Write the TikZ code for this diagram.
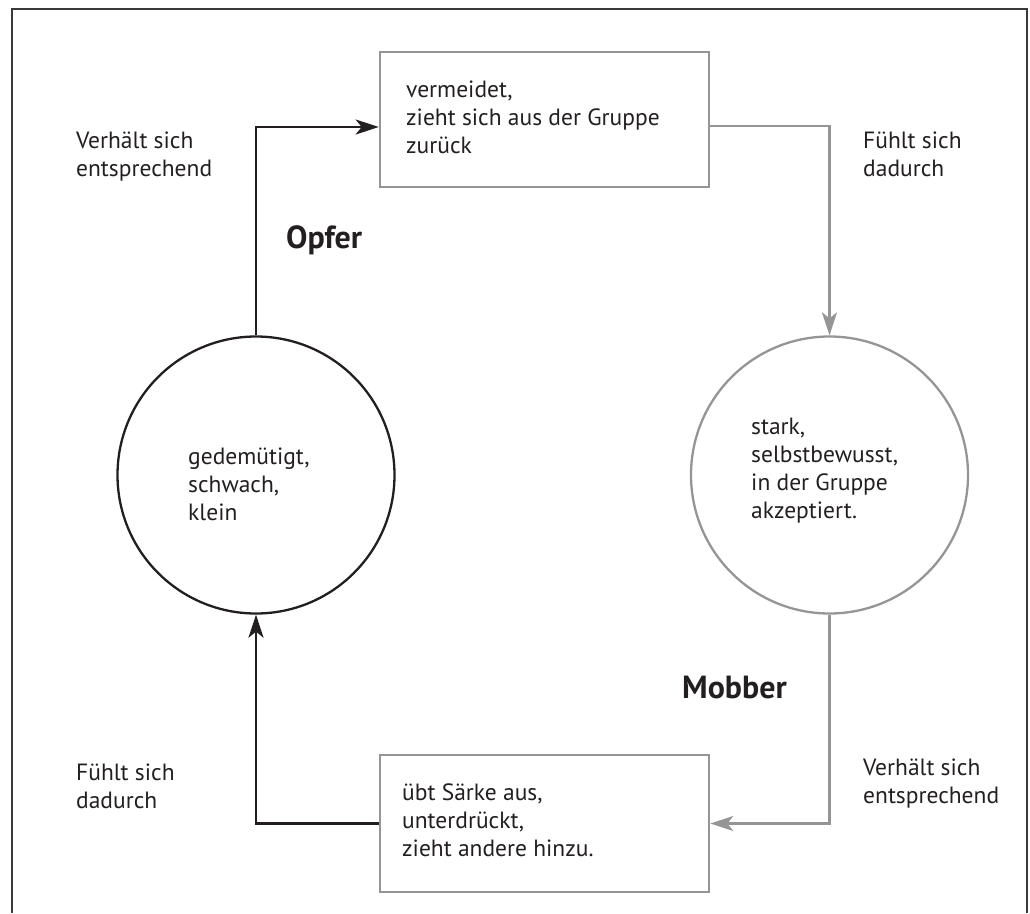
\documentclass[tikz,border=0pt]{standalone}
\usepackage{fontspec}
\setmainfont{PT Sans}
\usetikzlibrary{arrows.meta}
\definecolor{ink}{HTML}{231F20}
\definecolor{lgray}{HTML}{959597}
\definecolor{fgray}{HTML}{3A3A3A}
\tikzset{
  lbl/.style={anchor=base west, inner sep=0pt, align=left, text=ink, font=\fontsize{23.5}{27.7}\selectfont},
  head/.style={anchor=base west, inner sep=0pt, text=ink, font=\fontsize{32}{36}\selectfont\bfseries},
  blackline/.style={draw=ink, line width=2.6pt},
  grayline/.style={draw=lgray, line width=2.6pt},
  tip/.style={-{Stealth[length=23pt,width=15pt,inset=6pt]}},
  boxnode/.style={rectangle, draw=lgray, line width=2.6pt, minimum width=329pt, minimum height=135pt, inner sep=0pt},
  ringnode/.style={circle, line width=2.3pt, minimum size=277pt, inner sep=0pt},
}
\begin{document}
\begin{tikzpicture}[x=1pt,y=-1pt]
\useasboundingbox (0,0) rectangle (1030,913);
% frame
\draw[draw=fgray, line width=1.6pt] (12,913) -- (12,9) -- (1027,9) -- (1027,913);
% shapes
\node[boxnode] (tb) at (544.5,119.5) {};
\node[boxnode, minimum height=137pt] (bb) at (544.5,823.5) {};
\node[ringnode, draw=ink] (lc) at (256,475) {};
\node[ringnode, draw=lgray] (rc) at (829.5,475) {};
% connectors
\draw[blackline, tip] (lc.north) |- ([yshift=-7.5pt]tb.west);
\draw[grayline, tip] ([yshift=-6.5pt]tb.east) -| (rc.north);
\draw[grayline, tip] (rc.south) |- (bb.east);
\draw[blackline, tip] (bb.west) -| (lc.south);
% texts (anchor = baseline of the last line)
\node[lbl] (t1) at (406,153) {vermeidet,\\zieht sich aus der Gruppe\\zurück};
\node[lbl] (t2) at (402,856) {übt Särke aus,\\unterdrückt,\\zieht andere hinzu.};
\node[lbl] (t3) at (188,520) {gedemütigt,\\schwach,\\klein};
\node[lbl] (t4) at (751,518) {stark,\\selbstbewusst,\\in der Gruppe\\akzeptiert.};
\node[lbl] (l1) at (76,176) {Verhält sich\\entsprechend};
\node[lbl] (l2) at (863,176) {Fühlt sich\\dadurch};
\node[lbl] (l3) at (76,808) {Fühlt sich\\dadurch};
\node[lbl] (l4) at (863,803) {Verhält sich\\entsprechend};
\node[head] (h1) at (286,248) {Opfer};
\node[head] (h2) at (682,698) {Mobber};
\end{tikzpicture}
\end{document}
